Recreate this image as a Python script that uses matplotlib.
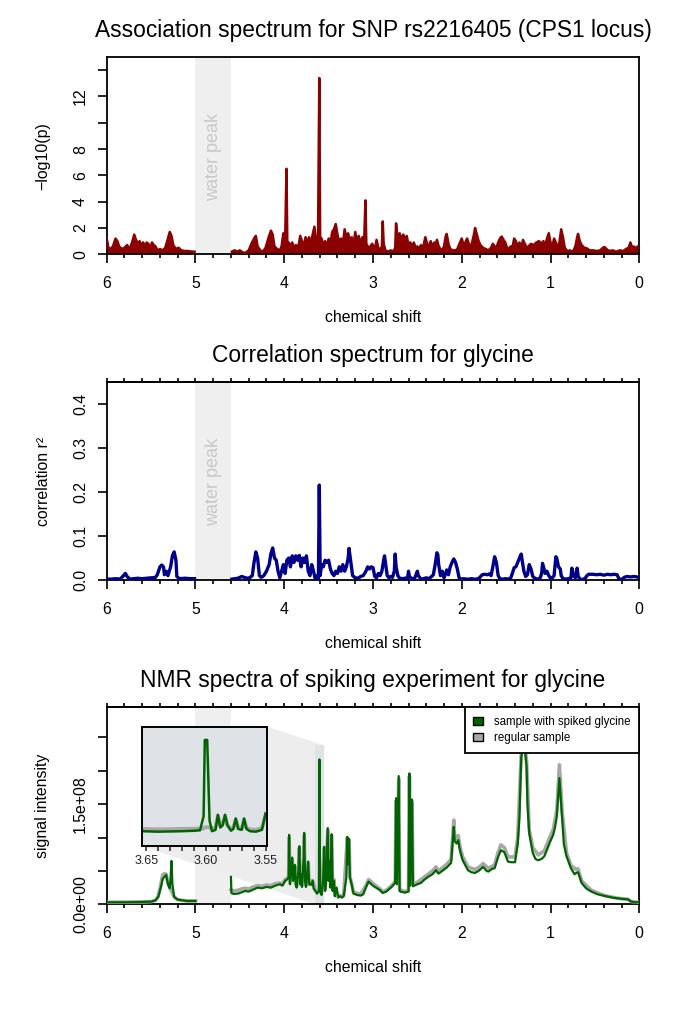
import numpy as np
import matplotlib.pyplot as plt
from matplotlib.patches import Patch, Polygon

plt.rcParams['font.family'] = ['Liberation Sans', 'DejaVu Sans']

nan = np.nan

# --- association spectrum, SNP rs2216405 (nan = water peak, not measured)
assoc_shift = [6.00, 5.98, 5.96, 5.93, 5.90, 5.88, 5.86, 5.83, 5.80, 5.77, 5.74, 5.71, 5.69, 5.67, 5.65, 5.63,
               5.61, 5.59, 5.57, 5.55, 5.53, 5.51, 5.49, 5.47, 5.45, 5.43, 5.40, 5.37, 5.34, 5.31, 5.29, 5.27,
               5.25, 5.22, 5.19, 5.16, 5.12, 5.08, 5.04, 5.01, 4.80,
               4.59, 4.56, 4.53, 4.50, 4.47, 4.44, 4.40, 4.37, 4.34, 4.32, 4.30, 4.27, 4.24, 4.21, 4.18, 4.15,
               4.13, 4.11, 4.08, 4.05, 4.03, 4.01, 3.99, 3.975, 3.965, 3.95, 3.93, 3.91, 3.89, 3.87, 3.84, 3.82,
               3.80, 3.78, 3.76, 3.74, 3.72, 3.70, 3.68, 3.66, 3.64, 3.62, 3.605, 3.595, 3.58, 3.56, 3.54, 3.52,
               3.50, 3.48, 3.46, 3.44, 3.42, 3.40, 3.38, 3.36, 3.34, 3.32, 3.30, 3.28, 3.26, 3.24, 3.22, 3.20,
               3.18, 3.16, 3.14, 3.12, 3.10, 3.085, 3.075, 3.06, 3.04, 3.01, 2.98, 2.96, 2.94, 2.92, 2.90, 2.89,
               2.88, 2.86, 2.83, 2.80, 2.77, 2.75, 2.74, 2.72, 2.70, 2.68, 2.66, 2.64, 2.62, 2.60, 2.58, 2.56,
               2.54, 2.52, 2.50, 2.48, 2.46, 2.44, 2.42, 2.41, 2.39, 2.37, 2.35, 2.33, 2.31, 2.29, 2.28, 2.26,
               2.24, 2.22, 2.20, 2.18, 2.17, 2.15, 2.13, 2.10, 2.07, 2.05, 2.02, 2.00, 1.98, 1.96, 1.94, 1.92,
               1.90, 1.88, 1.86, 1.85, 1.83, 1.81, 1.79, 1.76, 1.73, 1.70, 1.67, 1.65, 1.63, 1.61, 1.59, 1.57,
               1.55, 1.53, 1.51, 1.49, 1.47, 1.45, 1.43, 1.41, 1.39, 1.37, 1.35, 1.33, 1.31, 1.29, 1.27, 1.25,
               1.22, 1.19, 1.16, 1.13, 1.10, 1.08, 1.06, 1.04, 1.02, 1.00, 0.98, 0.96, 0.94, 0.92, 0.90, 0.88,
               0.86, 0.84, 0.82, 0.80, 0.78, 0.76, 0.74, 0.72, 0.70, 0.69, 0.67, 0.65, 0.62, 0.59, 0.56, 0.52,
               0.48, 0.44, 0.41, 0.39, 0.37, 0.34, 0.30, 0.26, 0.22, 0.18, 0.15, 0.12, 0.10, 0.08, 0.06, 0.04,
               0.02, 0.00]
assoc_logp = [1.2, 0.5, 0.4, 0.6, 1.2, 1.0, 0.6, 0.4, 0.5, 0.7, 0.4, 1.0, 1.5, 1.1, 0.8, 1.0,
              0.7, 0.9, 0.6, 0.9, 0.8, 0.5, 0.9, 0.7, 0.6, 0.3, 0.4, 0.3, 0.5, 1.2, 1.7, 1.4,
              0.7, 0.4, 0.5, 0.3, 0.25, 0.25, 0.2, 0.2, nan,
              0.2, 0.3, 0.2, 0.3, 0.15, 0.1, 0.3, 0.8, 1.2, 1.4, 0.6, 0.3, 0.2, 0.5, 1.2, 1.8,
              1.5, 0.6, 0.4, 0.3, 0.6, 1.6, 0.9, 6.5, 0.8, 0.9, 0.6, 0.9, 0.5, 0.7, 0.6, 1.4,
              1.0, 0.6, 1.3, 0.9, 1.3, 0.8, 1.5, 2.1, 0.9, 0.6, 13.4, 0.8, 1.2, 0.7, 1.0, 0.6,
              1.2, 0.8, 1.7, 1.9, 2.3, 1.5, 0.9, 1.2, 0.7, 1.9, 1.3, 1.6, 1.0, 1.3, 0.6, 1.7,
              0.9, 1.4, 0.7, 1.3, 1.0, 4.1, 0.8, 0.6, 0.5, 0.8, 0.4, 1.1, 0.5, 0.3, 0.6, 2.5,
              0.8, 0.3, 0.2, 0.3, 0.2, 0.5, 2.35, 1.0, 1.6, 1.1, 1.5, 1.2, 1.4, 0.7, 0.9, 0.6,
              0.9, 0.5, 0.6, 0.4, 0.7, 0.4, 1.0, 1.3, 0.8, 0.6, 1.0, 0.5, 0.9, 0.7, 1.1, 0.6,
              0.4, 0.3, 0.6, 1.4, 1.55, 0.8, 0.4, 0.3, 0.3, 0.4, 0.9, 1.2, 0.7, 0.9, 1.2, 0.8,
              0.5, 1.0, 1.6, 2.0, 1.5, 1.0, 0.7, 0.5, 0.4, 0.3, 0.5, 0.8, 0.6, 0.5, 0.9, 1.2,
              1.35, 1.1, 0.9, 0.5, 0.4, 0.6, 0.5, 1.2, 1.0, 0.6, 0.9, 0.5, 1.1, 0.8, 0.5, 0.6,
              0.8, 0.7, 0.9, 1.0, 0.8, 1.0, 0.6, 1.2, 1.6, 0.9, 0.6, 1.2, 0.9, 0.5, 0.9, 1.9,
              1.3, 0.5, 0.3, 0.25, 0.3, 0.2, 0.3, 0.6, 1.3, 1.55, 1.0, 0.7, 0.5, 0.45, 0.3, 0.3,
              0.25, 0.3, 0.5, 0.55, 0.4, 0.25, 0.3, 0.2, 0.3, 0.25, 0.4, 0.5, 0.9, 0.5, 0.6, 0.4,
              0.6, 0.5]

# --- correlation spectrum with glycine (r^2)
corr_shift = [6.00, 5.95, 5.90, 5.85, 5.81, 5.79, 5.77, 5.74, 5.70, 5.65, 5.60, 5.55, 5.50, 5.45, 5.43, 5.40,
              5.38, 5.36, 5.35, 5.33, 5.31, 5.28, 5.26, 5.24, 5.22, 5.21, 5.18, 5.12, 5.06, 5.01, 4.80,
              4.59, 4.55, 4.52, 4.48, 4.45, 4.42, 4.39, 4.36, 4.34, 4.32, 4.30, 4.28, 4.26, 4.23, 4.20, 4.17,
              4.15, 4.13, 4.11, 4.09, 4.07, 4.05, 4.03, 4.01, 3.99, 3.97, 3.95, 3.93, 3.91, 3.89, 3.87, 3.85,
              3.83, 3.81, 3.79, 3.77, 3.75, 3.73, 3.71, 3.69, 3.67, 3.65, 3.63, 3.615, 3.605, 3.595, 3.58, 3.56,
              3.54, 3.52, 3.50, 3.48, 3.46, 3.44, 3.42, 3.40, 3.38, 3.36, 3.34, 3.32, 3.30, 3.28, 3.27, 3.25,
              3.23, 3.20, 3.17, 3.14, 3.11, 3.08, 3.06, 3.04, 3.02, 3.00, 2.98, 2.96, 2.94, 2.92, 2.90, 2.88,
              2.87, 2.86, 2.84, 2.82, 2.80, 2.78, 2.76, 2.75, 2.74, 2.72, 2.70, 2.67, 2.64, 2.61, 2.60, 2.59,
              2.56, 2.53, 2.51, 2.50, 2.49, 2.46, 2.43, 2.40, 2.37, 2.34, 2.32, 2.30, 2.28, 2.27, 2.26, 2.24,
              2.22, 2.20, 2.18, 2.17, 2.15, 2.13, 2.11, 2.09, 2.07, 2.05, 2.03, 2.01, 1.98, 1.95, 1.92, 1.89,
              1.86, 1.83, 1.80, 1.77, 1.74, 1.71, 1.69, 1.67, 1.65, 1.63, 1.61, 1.59, 1.57, 1.54, 1.51, 1.48,
              1.45, 1.43, 1.41, 1.39, 1.37, 1.35, 1.33, 1.32, 1.30, 1.28, 1.26, 1.24, 1.22, 1.20, 1.17, 1.14,
              1.12, 1.10, 1.09, 1.08, 1.06, 1.04, 1.02, 1.00, 0.98, 0.96, 0.94, 0.93, 0.91, 0.89, 0.88, 0.86,
              0.83, 0.80, 0.77, 0.76, 0.74, 0.72, 0.70, 0.69, 0.67, 0.64, 0.61, 0.59, 0.57, 0.52, 0.48, 0.44,
              0.40, 0.36, 0.32, 0.28, 0.25, 0.23, 0.20, 0.17, 0.14, 0.10, 0.06, 0.03, 0.00]
corr_r2 = [0.002, 0.002, 0.003, 0.002, 0.010, 0.015, 0.008, 0.002, 0.003, 0.004, 0.003, 0.004, 0.005, 0.006, 0.012, 0.030,
           0.034, 0.030, 0.012, 0.020, 0.010, 0.030, 0.055, 0.064, 0.045, 0.008, 0.003, 0.004, 0.003, 0.003, nan,
           0.002, 0.003, 0.004, 0.008, 0.006, 0.004, 0.005, 0.010, 0.040, 0.064, 0.050, 0.010, 0.006, 0.010, 0.020, 0.035,
           0.060, 0.073, 0.050, 0.045, 0.020, 0.005, 0.020, 0.035, 0.015, 0.045, 0.050, 0.030, 0.055, 0.040, 0.055, 0.045,
           0.056, 0.030, 0.050, 0.040, 0.055, 0.020, 0.010, 0.035, 0.020, 0.002, 0.010, 0.003, 0.216, 0.010, 0.035, 0.030,
           0.045, 0.040, 0.045, 0.025, 0.015, 0.010, 0.020, 0.015, 0.030, 0.020, 0.035, 0.020, 0.030, 0.050, 0.072, 0.040,
           0.010, 0.005, 0.004, 0.008, 0.010, 0.020, 0.030, 0.025, 0.030, 0.028, 0.008, 0.005, 0.015, 0.010, 0.020, 0.045,
           0.055, 0.040, 0.010, 0.005, 0.008, 0.006, 0.020, 0.059, 0.030, 0.010, 0.004, 0.003, 0.004, 0.005, 0.020, 0.008,
           0.003, 0.004, 0.015, 0.020, 0.010, 0.002, 0.003, 0.005, 0.003, 0.008, 0.012, 0.035, 0.062, 0.058, 0.035, 0.010,
           0.020, 0.005, 0.015, 0.023, 0.012, 0.030, 0.040, 0.048, 0.040, 0.025, 0.005, 0.002, 0.003, 0.002, 0.002, 0.003,
           0.002, 0.002, 0.005, 0.012, 0.013, 0.012, 0.014, 0.010, 0.030, 0.053, 0.040, 0.010, 0.003, 0.002, 0.003, 0.002,
           0.004, 0.015, 0.028, 0.030, 0.040, 0.050, 0.059, 0.045, 0.020, 0.008, 0.012, 0.035, 0.025, 0.008, 0.003, 0.002,
           0.003, 0.015, 0.038, 0.030, 0.015, 0.020, 0.010, 0.004, 0.005, 0.010, 0.053, 0.050, 0.030, 0.025, 0.010, 0.003,
           0.002, 0.003, 0.005, 0.027, 0.010, 0.005, 0.027, 0.010, 0.002, 0.001, 0.004, 0.010, 0.013, 0.013, 0.012, 0.013,
           0.011, 0.013, 0.012, 0.013, 0.012, 0.003, 0.001, 0.006, 0.008, 0.007, 0.008, 0.007, 0.006]

# --- NMR spectra (signal intensity in units of 1e8)
spiked_shift = [6.00, 5.80, 5.60, 5.50, 5.45, 5.42, 5.39, 5.37, 5.35, 5.33, 5.31, 5.29, 5.28, 5.27, 5.26, 5.24,
                5.20, 5.10, 5.00, 4.80,
                4.60, 4.595, 4.57, 4.52, 4.48, 4.44, 4.40, 4.35, 4.30, 4.25, 4.20, 4.15, 4.10, 4.05, 4.02, 3.99,
                3.97, 3.95, 3.945, 3.935, 3.92, 3.91, 3.90, 3.88, 3.87, 3.86, 3.84, 3.83, 3.82, 3.81, 3.80, 3.78,
                3.775, 3.765, 3.755, 3.74, 3.73, 3.72, 3.70, 3.68, 3.67, 3.65, 3.63, 3.61, 3.604, 3.597, 3.58, 3.56,
                3.55, 3.54, 3.53, 3.51, 3.50, 3.49, 3.48, 3.465, 3.455, 3.44, 3.43, 3.41, 3.39, 3.37, 3.35, 3.33,
                3.30, 3.29, 3.28, 3.27, 3.26, 3.24, 3.22, 3.18, 3.14, 3.11, 3.08, 3.05, 3.02, 2.98, 2.93, 2.89,
                2.85, 2.79, 2.75, 2.74, 2.73, 2.71, 2.70, 2.69, 2.64, 2.60, 2.59, 2.58, 2.56, 2.55, 2.50, 2.46,
                2.42, 2.38, 2.33, 2.29, 2.27, 2.26, 2.21, 2.17, 2.12, 2.09, 2.08, 2.06, 2.04, 2.02, 1.99, 1.93,
                1.89, 1.85, 1.80, 1.76, 1.72, 1.70, 1.66, 1.63, 1.59, 1.56, 1.52, 1.48, 1.44, 1.40, 1.37, 1.35,
                1.33, 1.30, 1.27, 1.26, 1.24, 1.20, 1.17, 1.14, 1.10, 1.07, 1.03, 1.01, 0.97, 0.95, 0.93, 0.90,
                0.87, 0.85, 0.82, 0.77, 0.73, 0.71, 0.69, 0.65, 0.60, 0.54, 0.47, 0.39, 0.30, 0.24, 0.19, 0.13,
                0.09, 0.05, 0.00]
spiked_int = [0.03, 0.03, 0.035, 0.04, 0.06, 0.11, 0.25, 0.38, 0.41, 0.44, 0.30, 0.24, 0.40, 0.65, 0.30, 0.11,
              0.07, 0.05, 0.05, nan,
              0.41, 0.17, 0.155, 0.16, 0.18, 0.20, 0.19, 0.22, 0.25, 0.24, 0.26, 0.25, 0.28, 0.30, 0.28, 0.35,
              0.37, 0.40, 1.04, 0.30, 0.55, 0.70, 0.35, 0.59, 0.30, 0.25, 0.50, 0.87, 0.30, 0.45, 0.26, 0.70,
              1.07, 0.35, 0.26, 0.50, 0.64, 0.30, 0.29, 0.35, 0.24, 0.20, 0.16, 0.20, 2.17, 0.20, 0.14, 0.40,
              0.86, 0.20, 0.30, 1.14, 0.35, 0.65, 0.25, 1.05, 0.20, 0.35, 0.12, 0.25, 0.10, 0.12, 0.10, 0.12,
              0.40, 1.01, 0.60, 0.98, 0.40, 0.30, 0.16, 0.14, 0.13, 0.15, 0.25, 0.34, 0.30, 0.26, 0.22, 0.17,
              0.19, 0.26, 0.32, 1.59, 0.30, 1.92, 0.20, 0.19, 0.175, 0.19, 1.96, 0.28, 1.57, 0.27, 0.30, 0.32,
              0.37, 0.41, 0.45, 0.51, 0.47, 0.46, 0.51, 0.55, 0.62, 1.16, 0.95, 0.91, 0.96, 0.80, 0.66, 0.51,
              0.48, 0.47, 0.51, 0.56, 0.50, 0.49, 0.53, 0.54, 0.71, 0.81, 0.78, 0.64, 0.63, 0.63, 0.90, 1.30,
              2.20, 2.45, 2.07, 1.50, 1.06, 0.77, 0.68, 0.66, 0.68, 0.72, 0.85, 0.92, 1.04, 1.15, 1.31, 1.89,
              1.31, 0.90, 0.72, 0.54, 0.45, 0.47, 0.48, 0.32, 0.24, 0.19, 0.15, 0.125, 0.10, 0.09, 0.08, 0.075,
              0.04, 0.03, 0.03]

regular_shift = [6.00, 5.60, 5.50, 5.45, 5.42, 5.39, 5.37, 5.35, 5.33, 5.31, 5.29, 5.27, 5.24, 5.20, 5.10, 5.00,
                 4.80,
                 4.60, 4.57, 4.52, 4.48, 4.44, 4.40, 4.35, 4.30, 4.25, 4.20, 4.15, 4.10, 4.05, 4.02, 3.99, 3.97,
                 3.95, 3.945, 3.935, 3.92, 3.91, 3.90, 3.88, 3.87, 3.86, 3.84, 3.83, 3.82, 3.80, 3.78, 3.775, 3.765,
                 3.755, 3.73, 3.72, 3.70, 3.68, 3.65, 3.62, 3.60, 3.58, 3.55, 3.54, 3.51, 3.50, 3.465, 3.455, 3.44,
                 3.43, 3.39, 3.33, 3.29, 3.28, 3.27, 3.26, 3.22, 3.14, 3.08, 3.05, 2.98, 2.93, 2.89, 2.85, 2.79,
                 2.75, 2.74, 2.73, 2.71, 2.70, 2.64, 2.60, 2.59, 2.58, 2.56, 2.55, 2.50, 2.42, 2.33, 2.29, 2.26,
                 2.17, 2.12, 2.09, 2.08, 2.06, 2.04, 2.02, 1.99, 1.93, 1.85, 1.80, 1.76, 1.70, 1.63, 1.59, 1.56,
                 1.52, 1.48, 1.40, 1.37, 1.33, 1.30, 1.27, 1.24, 1.20, 1.14, 1.07, 1.01, 0.97, 0.93, 0.90, 0.87,
                 0.82, 0.77, 0.71, 0.69, 0.65, 0.54, 0.39, 0.24, 0.13, 0.09, 0.00]
regular_int = [0.03, 0.035, 0.04, 0.06, 0.12, 0.30, 0.44, 0.46, 0.45, 0.32, 0.25, 0.20, 0.11, 0.07, 0.05, 0.05,
               nan,
               0.22, 0.20, 0.21, 0.23, 0.24, 0.23, 0.26, 0.28, 0.27, 0.29, 0.28, 0.31, 0.32, 0.30, 0.37, 0.39,
               0.40, 1.00, 0.32, 0.55, 0.68, 0.37, 0.57, 0.32, 0.27, 0.50, 0.84, 0.32, 0.28, 0.68, 1.03, 0.37,
               0.28, 0.62, 0.32, 0.31, 0.36, 0.22, 0.19, 0.21, 0.17, 0.84, 0.22, 1.12, 0.37, 1.03, 0.22, 0.37,
               0.14, 0.12, 0.14, 0.99, 0.62, 0.96, 0.42, 0.18, 0.15, 0.28, 0.37, 0.29, 0.24, 0.19, 0.21, 0.28,
               0.34, 1.55, 0.32, 1.88, 0.22, 0.19, 0.21, 1.92, 0.30, 1.53, 0.30, 0.33, 0.41, 0.50, 0.56, 0.50,
               0.60, 0.67, 1.26, 1.02, 0.98, 1.03, 0.86, 0.71, 0.56, 0.52, 0.56, 0.61, 0.54, 0.59, 0.78, 0.89,
               0.85, 0.71, 0.71, 1.00, 2.25, 2.50, 2.15, 1.12, 0.85, 0.74, 0.80, 1.00, 1.12, 1.40, 2.09, 1.40,
               0.77, 0.58, 0.52, 0.53, 0.35, 0.21, 0.13, 0.09, 0.075, 0.04, 0.03]

# zoomed region 3.65 - 3.55 ppm (inset)
zoom_shift = [3.654, 3.64, 3.63, 3.62, 3.61, 3.605, 3.602, 3.601, 3.599, 3.597, 3.595, 3.592, 3.590, 3.588,
              3.586, 3.584, 3.582, 3.579, 3.577, 3.575, 3.573, 3.570, 3.568, 3.566, 3.563, 3.558, 3.553, 3.550]
zoom_spiked = [0.17, 0.16, 0.165, 0.17, 0.18, 0.19, 0.50, 2.17, 2.17, 0.40, 0.17, 0.20, 0.53, 0.25,
               0.30, 0.53, 0.30, 0.18, 0.22, 0.45, 0.22, 0.20, 0.45, 0.22, 0.17, 0.16, 0.20, 0.56]
zoom_regular = [0.22, 0.21, 0.215, 0.22, 0.225, 0.23, 0.23, 0.25, 0.26, 0.25, 0.24, 0.25, 0.50, 0.30,
                0.32, 0.50, 0.30, 0.22, 0.25, 0.42, 0.25, 0.23, 0.42, 0.24, 0.21, 0.20, 0.24, 0.50]

SCALE = 1e8
water = (5.0, 4.6)
zoom_range = (3.654, 3.549)

RED = '#8b0000'
BLUE = '#00008b'
GREEN = '#006400'
GREY = '#a8a8a8'
WATER = '#efefef'
ZOOMBG = '#dfe3e8'
FS = 11.4

fig = plt.figure(figsize=(6.85, 10.18), dpi=100)
W, H = 685.0, 1018.0
left, right = 106.7 / W, 639.3 / W


def make_ax(top_px, bot_px):
    return fig.add_axes([left, 1 - bot_px / H, right - left, (bot_px - top_px) / H])


def style(ax, top_ticks):
    ax.set_xlim(6, 0)
    for s in ax.spines.values():
        s.set_linewidth(1.3)
    ax.set_xticks(range(7))
    ax.set_xticks(np.arange(0, 6.01, 0.2), minor=True)
    ax.tick_params(which='major', direction='out', length=6.5, width=1.2, pad=9, labelsize=FS)
    ax.tick_params(axis='y', pad=7)
    ax.tick_params(which='minor', direction='out', length=3, width=1.2)
    ax.tick_params(axis='y', which='minor', left=False)
    if top_ticks:
        sec = ax.secondary_xaxis('top')
        sec.set_xticks(np.arange(0, 6.01, 0.2))
        sec.tick_params(direction='out', length=3, width=1.2, labeltop=False)
        sec.spines['top'].set_linewidth(1.3)


def water_band(ax, top, label=True):
    ax.axvspan(water[0], water[1], ymin=0, ymax=1, color=WATER, lw=0, zorder=0)
    if label:
        ax.text(4.8, top, 'water peak', rotation=90, ha='center', va='center',
                color='#c8c8c8', fontsize=13, zorder=1)


# ---- panel 1: association
ax1 = make_ax(57, 254.3)
water_band(ax1, 7.4)
ax1.fill_between(assoc_shift, 0, assoc_logp, color=RED, lw=0, zorder=2)
ax1.plot(assoc_shift, assoc_logp, color=RED, lw=1.8, zorder=3)
ax1.set_ylim(0, 15)
ax1.set_yticks(range(0, 15, 2))
ax1.set_yticklabels(['0', '2', '4', '6', '8', '', '12', ''])
style(ax1, False)

# ---- panel 2: correlation
ax2 = make_ax(382.3, 580)
water_band(ax2, 0.223)
ax2.plot(corr_shift, corr_r2, color=BLUE, lw=2.4, zorder=3)
ax2.set_ylim(0, 0.45)
ax2.set_yticks([0, 0.1, 0.2, 0.3, 0.4])
ax2.set_yticklabels(['0.0', '0.1', '0.2', '0.3', '0.4'])
style(ax2, True)

# ---- panel 3: NMR spectra
ax3 = make_ax(707.3, 904.3)
water_band(ax3, 0, label=False)
ins_x0, ins_x1 = 5.606, 4.198
ins_y0, ins_y1 = 0.873 * SCALE, 2.66 * SCALE
band_top = 2.38 * SCALE
ax3.add_patch(Polygon([(ins_x0, ins_y0), (ins_x1, ins_y1), (zoom_range[1], band_top),
                       (zoom_range[1], 0), (zoom_range[0], 0)],
                      closed=True, facecolor='#ededed', edgecolor='none', zorder=0.5))
ax3.fill_between(zoom_range, 0, band_top, color=ZOOMBG, lw=0, zorder=0.6)
ax3.plot(regular_shift, np.array(regular_int) * SCALE, color=GREY, lw=2.6, zorder=3)
ax3.plot(spiked_shift, np.array(spiked_int) * SCALE, color=GREEN, lw=1.6, zorder=4)
ax3.set_ylim(0, 2.95 * SCALE)
ax3.set_yticks(np.arange(0, 2.6, 0.5) * SCALE)
ax3.set_yticklabels(['0.0e+00', '', '', '1.5e+08', '', ''])
style(ax3, True)

leg = ax3.legend(handles=[Patch(facecolor=GREEN, edgecolor='black', lw=1, label='sample with spiked glycine'),
                          Patch(facecolor=GREY, edgecolor='black', lw=1, label='regular sample')],
                 loc='upper right', borderaxespad=0, fontsize=8.3, handlelength=0.8, handleheight=0.8,
                 handletextpad=1.0, labelspacing=0.35, borderpad=0.75, fancybox=False, framealpha=1)
leg.get_frame().set_edgecolor('black')
leg.get_frame().set_linewidth(1.3)
leg.set_zorder(10)

axin = ax3.inset_axes([(141.7 - 106.7) / 532.6, (904.3 - 846) / 197, 125 / 532.6, (846 - 726.7) / 197])
axin.set_facecolor(ZOOMBG)
axin.plot(zoom_shift, zoom_regular, color=GREY, lw=2.8)
axin.plot(zoom_shift, zoom_spiked, color=GREEN, lw=1.8)
axin.set_xlim(zoom_range)
axin.set_ylim(-0.154, 2.46)
axin.set_yticks([])
axin.set_xticks([3.65, 3.60, 3.55])
axin.set_xticklabels(['3.65', '3.60', '3.55'])
axin.set_xticks(np.arange(3.55, 3.655, 0.01), minor=True)
axin.tick_params(which='both', direction='out', length=3.5, width=1.1, labelsize=9, pad=3, colors='#222222')
for s in axin.spines.values():
    s.set_linewidth(1.4)

for ax in (ax1, ax2, ax3):
    plt.setp(ax.get_yticklabels(), rotation=90, va='center')

cx = (left + right) / 2
titles = ['Association spectrum for SNP rs2216405 (CPS1 locus)',
          'Correlation spectrum for glycine',
          'NMR spectra of spiking experiment for glycine']
ylabels = ['\u2212log10(p)', 'correlation r\u00b2', 'signal intensity']
for t, ty, xy, yl, ym in zip(titles, [30, 355, 680], [318, 643, 968], ylabels, [155.6, 481, 806]):
    fig.text(cx, 1 - ty / H, t, ha='center', va='center', fontsize=16.4)
    fig.text(cx, 1 - xy / H, 'chemical shift', ha='center', va='center', fontsize=FS)
    fig.text(43 / W, 1 - ym / H, yl, ha='center', va='center', rotation=90, fontsize=FS)

fig.savefig('out.png', dpi=100)
